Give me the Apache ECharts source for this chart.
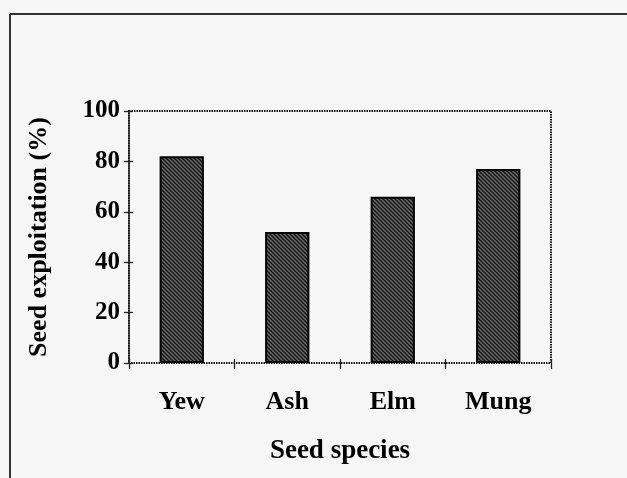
<!DOCTYPE html>
<html>
<head>
<meta charset="utf-8">
<script src="https://cdn.jsdelivr.net/npm/echarts@6/dist/echarts.min.js"></script>
<style>
  html, body { margin: 0; padding: 0; background: #f6f6f6; }
  #main { width: 627px; height: 478px; }
</style>
</head>
<body>
<div id="main"></div>
<script>
var categories = ['Yew', 'Ash', 'Elm', 'Mung'];
var exploitation = [82, 52, 66, 77];
var yTicks = [0, 20, 40, 60, 80, 100];

// hatched fill for the bars
function hatch() {
  var c = document.createElement('canvas');
  c.width = 4;
  c.height = 4;
  var ctx = c.getContext('2d');
  ctx.fillStyle = '#707070';
  ctx.fillRect(0, 0, 4, 4);
  ctx.strokeStyle = '#111';
  ctx.lineWidth = 1.5;
  ctx.beginPath();
  ctx.moveTo(-1, -1); ctx.lineTo(5, 5);
  ctx.moveTo(-1, 3); ctx.lineTo(1, 5);
  ctx.moveTo(3, -1); ctx.lineTo(5, 1);
  ctx.stroke();
  return c;
}

var font = 'Liberation Serif';
var myChart = echarts.init(document.getElementById('main'));

var option = {
  backgroundColor: '#f6f6f6',
  animation: false,
  textStyle: { fontFamily: font, color: '#000' },
  graphic: [
    { type: 'line', shape: { x1: 10, y1: 14, x2: 627, y2: 14 }, style: { stroke: '#333', lineWidth: 2 } },
    { type: 'line', shape: { x1: 10, y1: 14, x2: 10, y2: 478 }, style: { stroke: '#333', lineWidth: 2 } }
  ],
  grid: {
    left: 129,
    right: 76,
    top: 111,
    bottom: 115,
    show: true,
    backgroundColor: 'transparent',
    borderColor: '#111',
    borderWidth: 2,
    borderType: [1.5, 1]
  },
  xAxis: [
    {
      type: 'category',
      data: categories,
      position: 'bottom',
      name: 'Seed species',
      nameLocation: 'middle',
      nameGap: 75,
      nameTextStyle: { fontFamily: font, fontWeight: 'bold', fontSize: 27, color: '#000' },
      axisLine: { show: false },
      axisTick: { show: true, length: 6, lineStyle: { color: '#222', width: 1.3 } },
      axisLabel: { fontFamily: font, fontWeight: 'bold', fontSize: 26, color: '#000', margin: 26 }
    },
    {
      type: 'category',
      data: categories,
      position: 'bottom',
      axisLine: { show: false },
      axisTick: { show: true, inside: true, length: 4, lineStyle: { color: '#222', width: 1.3 } },
      axisLabel: { show: false }
    }
  ],
  yAxis: [
    {
      type: 'value',
      min: 0,
      max: 100,
      interval: 20,
      name: 'Seed exploitation (%)',
      nameLocation: 'middle',
      nameGap: 77,
      nameTextStyle: { fontFamily: font, fontWeight: 'bold', fontSize: 26, color: '#000' },
      splitLine: { show: false },
      axisLine: { show: true, lineStyle: { color: '#222', width: 1.5 } },
      axisTick: { show: true, length: 5, lineStyle: { color: '#222', width: 1.3 } },
      axisLabel: {
        fontFamily: font, fontWeight: 'bold', fontSize: 25, color: '#000', margin: 9,
        formatter: function (v) { return yTicks.indexOf(v) >= 0 ? String(v) : ''; }
      }
    },
    {
      type: 'value',
      min: 0,
      max: 100,
      interval: 20,
      position: 'left',
      splitLine: { show: false },
      axisLine: { show: false },
      axisTick: { show: true, inside: true, length: 4, lineStyle: { color: '#222', width: 1.3 } },
      axisLabel: { show: false }
    }
  ],
  series: [
    {
      type: 'bar',
      xAxisIndex: 0,
      yAxisIndex: 0,
      data: exploitation,
      barWidth: '42%',
      itemStyle: {
        color: { image: hatch(), repeat: 'repeat' },
        borderColor: '#000',
        borderWidth: 2
      }
    }
  ]
};

myChart.setOption(option);
</script>
</body>
</html>
